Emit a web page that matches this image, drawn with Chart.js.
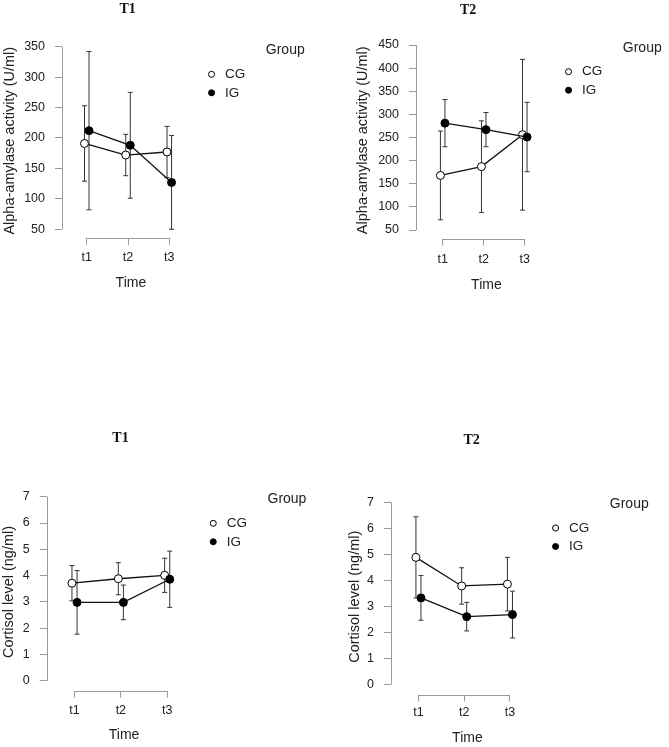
<!DOCTYPE html>
<html>
<head>
<meta charset="utf-8">
<title>Alpha-amylase y cortisol</title>
<script src="https://cdn.jsdelivr.net/npm/chart.js@4.4.1/dist/chart.umd.min.js"></script>
<style>
  html, body { margin: 0; padding: 0; background: #fff; }
  body { width: 669px; height: 747px; position: relative; overflow: hidden; }
  canvas { position: absolute; }
</style>
</head>
<body>
<canvas id="amilasaT1" width="320" height="300" style="left:0px; top:0px;"></canvas>
<canvas id="amilasaT2" width="345" height="300" style="left:324px; top:0px;"></canvas>
<canvas id="cortisolT1" width="336" height="327" style="left:-16px; top:420px;"></canvas>
<canvas id="cortisolT2" width="325" height="327" style="left:344px; top:420px;"></canvas>
<script>
// Datos
const tiempos = ["t1", "t2", "t3"];
const grupos = ["CG", "IG"];

// Alpha-amylase (U/ml): media e intervalo (+/-)
const ticksAmilasaT1 = [50, 100, 150, 200, 250, 300, 350];
const amilasaT1CG = [191, 172, 177];
const amilasaT1CGic = [62, 34, 42];
const amilasaT1IG = [212, 188, 127];
const amilasaT1IGic = [130, 87, 77];

const ticksAmilasaT2 = [50, 100, 150, 200, 250, 300, 350, 400, 450];
const amilasaT2CG = [168, 187, 256];
const amilasaT2CGic = [96, 99, 163];
const amilasaT2IG = [281, 267, 251];
const amilasaT2IGic = [51, 37, 75];

// Cortisol (ng/ml)
const ticksCortisol = [0, 1, 2, 3, 4, 5, 6, 7];
const cortisolT1CG = [3.71, 3.88, 4.01];
const cortisolT1CGic = [0.67, 0.61, 0.65];
const cortisolT1IG = [2.98, 2.98, 3.86];
const cortisolT1IGic = [1.21, 0.66, 1.07];

const cortisolT2CG = [4.89, 3.79, 3.86];
const cortisolT2CGic = [1.56, 0.70, 1.03];
const cortisolT2IG = [3.33, 2.61, 2.69];
const cortisolT2IGic = [0.86, 0.55, 0.90];

const colorEje = "#9a9a9a";
const colorTexto = "#222";
const desplazamiento = 0.055;

Chart.defaults.font.family = "'Liberation Sans', Arial, sans-serif";
Chart.defaults.color = colorTexto;

// =========================
//   Plugins
// =========================
const ejes = {
    id: "ejes",
    beforeDatasetsDraw(chart) {
        const { ctx, chartArea, scales: { x, y } } = chart;
        const xIzq = Math.round(chartArea.left) + 0.5;
        const yAbajo = Math.round(chartArea.bottom) + 0.5;
        ctx.save();
        ctx.strokeStyle = colorEje;
        ctx.lineWidth = 1;
        ctx.beginPath();
        ctx.moveTo(xIzq, y.getPixelForValue(y.ticks[0].value));
        ctx.lineTo(xIzq, y.getPixelForValue(y.ticks[y.ticks.length - 1].value));
        ctx.moveTo(x.getPixelForValue(x.ticks[0].value), yAbajo);
        ctx.lineTo(x.getPixelForValue(x.ticks[x.ticks.length - 1].value), yAbajo);
        ctx.stroke();
        ctx.restore();
    }
};

const barrasError = {
    id: "barrasError",
    beforeDatasetsDraw(chart) {
        const { ctx, scales: { x, y } } = chart;
        ctx.save();
        ctx.strokeStyle = "#333";
        ctx.lineWidth = 1;
        chart.data.datasets.forEach(ds => {
            ds.data.forEach((p, i) => {
                const e = ds.errores[i];
                const px = x.getPixelForValue(p.x);
                const arriba = y.getPixelForValue(p.y + e);
                const abajo = y.getPixelForValue(p.y - e);
                ctx.beginPath();
                ctx.moveTo(px, arriba);
                ctx.lineTo(px, abajo);
                ctx.moveTo(px - 2.5, arriba);
                ctx.lineTo(px + 2.5, arriba);
                ctx.moveTo(px - 2.5, abajo);
                ctx.lineTo(px + 2.5, abajo);
                ctx.stroke();
            });
        });
        ctx.restore();
    }
};

// titulo "Group" a la derecha de la leyenda
const tituloGrupo = {
    id: "tituloGrupo",
    afterDraw(chart, args, opts) {
        const leyenda = chart.legend;
        const ctx = chart.ctx;
        ctx.save();
        ctx.font = "14px 'Liberation Sans', Arial, sans-serif";
        ctx.fillStyle = colorTexto;
        ctx.textAlign = "left";
        ctx.textBaseline = "middle";
        ctx.fillText(opts.texto, leyenda.left + opts.dx, leyenda.top + opts.dy);
        ctx.restore();
    }
};

function serie(nombre, medias, ic, relleno, orden, signo) {
    return {
        label: nombre,
        data: medias.map((m, i) => ({ x: i + 1 + signo * desplazamiento, y: m })),
        errores: ic,
        borderColor: "#111",
        borderWidth: 1.3,
        pointRadius: 4,
        pointBorderWidth: 1,
        pointBorderColor: "#000",
        pointBackgroundColor: relleno,
        pointStyle: "circle",
        order: orden,
        clip: false
    };
}

function crearPanel(id, p) {
    new Chart(document.getElementById(id), {
        type: "line",
        data: {
            datasets: [
                serie(grupos[0], p.cg, p.cgIc, "#fff", 2, -1),
                serie(grupos[1], p.ig, p.igIc, "#000", 1, 1)
            ]
        },
        options: {
            responsive: false,
            animation: false,
            devicePixelRatio: 1,
            events: [],
            layout: { padding: { left: 0, right: p.margenDer, top: 0, bottom: 0 } },
            plugins: {
                title: {
                    display: true,
                    text: p.titulo,
                    color: "#111",
                    font: { family: "'Liberation Serif', 'Times New Roman', serif", size: 14, weight: "bold" },
                    padding: p.padTitulo
                },
                legend: {
                    position: "right",
                    align: "start",
                    labels: {
                        usePointStyle: true,
                        boxWidth: 14,
                        boxHeight: 4.25,
                        padding: 5,
                        color: colorTexto,
                        font: { size: 13.5 },
                        sort: (a, b) => a.datasetIndex - b.datasetIndex
                    },
                    title: { display: true, text: "", font: { size: 14 }, padding: { top: p.reservaLeyenda - 16.8, bottom: 0 } }
                },
                tooltip: { enabled: false },
                tituloGrupo: { texto: "Group", dx: 66, dy: p.reservaLeyenda - 12.25 }
            },
            scales: {
                x: {
                    type: "linear",
                    min: p.xMin,
                    max: p.xMax,
                    afterBuildTicks: s => { s.ticks = tiempos.map((t, i) => ({ value: i + 1 })); },
                    afterFit: s => { s.height = p.altoEjeX; },
                    ticks: { callback: (v, i) => tiempos[i], padding: p.padTicksX, font: { size: 12.5 }, autoSkip: false, maxRotation: 0 },
                    grid: { drawOnChartArea: false, tickLength: 6.5, color: colorEje },
                    border: { display: false },
                    title: { display: true, text: "Time", font: { size: 14 }, padding: { top: 0, bottom: p.padTituloX } }
                },
                y: {
                    min: p.yMin,
                    max: p.yMax,
                    afterBuildTicks: s => { s.ticks = p.ticksY.map(v => ({ value: v })); },
                    afterFit: s => { s.width = p.anchoEjeY; },
                    ticks: { padding: 10, font: { size: 12.5 } },
                    grid: { drawOnChartArea: false, tickLength: 7, color: colorEje },
                    border: { display: false },
                    title: { display: true, text: p.tituloY, font: { size: 14.5 }, padding: { top: p.padTituloY, bottom: 0 } }
                }
            }
        },
        plugins: [ejes, barrasError, tituloGrupo]
    });
}

// =========================
//   Paneles
// =========================
crearPanel("amilasaT1", {
    titulo: "T1", tituloY: "Alpha-amylase activity (U/ml)", ticksY: ticksAmilasaT1,
    cg: amilasaT1CG, cgIc: amilasaT1CGic, ig: amilasaT1IG, igIc: amilasaT1IGic,
    yMin: 35, yMax: 356, xMin: 0.4, xMax: 3.74,
    margenDer: 64.7, padTitulo: { top: 0.6, bottom: 25.65 },
    anchoEjeY: 62, padTituloY: 0.8, altoEjeX: 61.6, padTicksX: 5, padTituloX: 8.6,
    reservaLeyenda: 62.55
});

crearPanel("amilasaT2", {
    titulo: "T2", tituloY: "Alpha-amylase activity (U/ml)", ticksY: ticksAmilasaT2,
    cg: amilasaT2CG, cgIc: amilasaT2CGic, ig: amilasaT2IG, igIc: amilasaT2IGic,
    yMin: 30, yMax: 458, xMin: 0.35, xMax: 3.78,
    margenDer: 56.7, padTitulo: { top: 1.6, bottom: 22.9 },
    anchoEjeY: 92, padTituloY: 30.3, altoEjeX: 60.75, padTicksX: 6.1, padTituloX: 6.9,
    reservaLeyenda: 59.95
});

crearPanel("cortisolT1", {
    titulo: "T1", tituloY: "Cortisol level (ng/ml)", ticksY: ticksCortisol,
    cg: cortisolT1CG, cgIc: cortisolT1CGic, ig: cortisolT1IG, igIc: cortisolT1IGic,
    yMin: -0.4, yMax: 7.15, xMin: 0.4, xMax: 3.74,
    margenDer: 63, padTitulo: { top: 9.6, bottom: 46.4 },
    anchoEjeY: 62.7, padTituloY: 16.3, altoEjeX: 55.8, padTicksX: 4.9, padTituloX: 3.6,
    reservaLeyenda: 91.55
});

crearPanel("cortisolT2", {
    titulo: "T2", tituloY: "Cortisol level (ng/ml)", ticksY: ticksCortisol,
    cg: cortisolT2CG, cgIc: cortisolT2CGic, ig: cortisolT2IG, igIc: cortisolT2IGic,
    yMin: -0.4, yMax: 7.15, xMin: 0.4, xMax: 3.74,
    margenDer: 69.7, padTitulo: { top: 11.6, bottom: 50.2 },
    anchoEjeY: 47, padTituloY: 2.3, altoEjeX: 52.1, padTicksX: 3.9, padTituloX: 0.3,
    reservaLeyenda: 96.25
});
</script>
</body>
</html>
